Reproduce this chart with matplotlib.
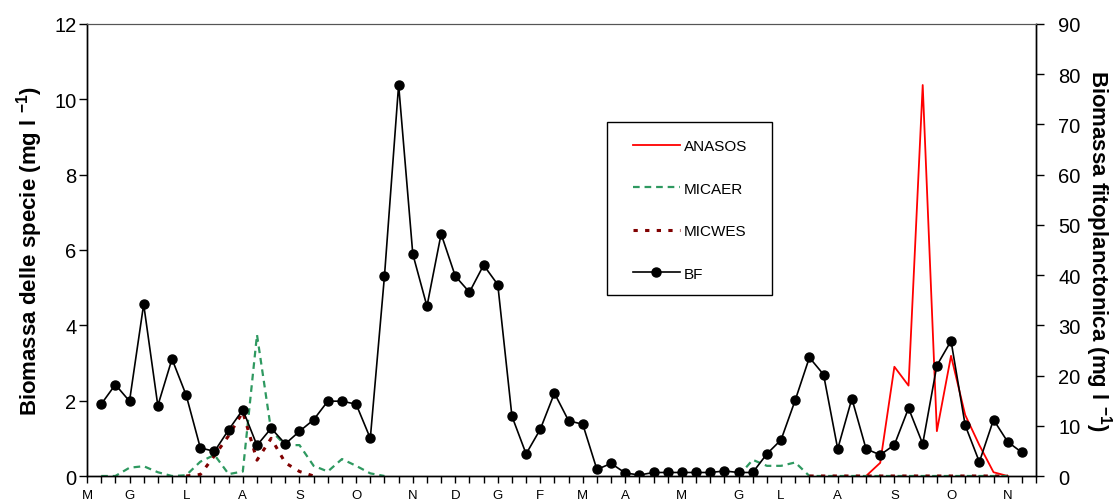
import numpy as np
import matplotlib
matplotlib.use("Agg")
import matplotlib.pyplot as plt
from matplotlib.patches import Rectangle

plt.rcParams['font.family'] = ['Liberation Sans', 'DejaVu Sans']
plt.rcParams['mathtext.fontset'] = 'custom'
plt.rcParams['mathtext.rm'] = 'Liberation Sans'
plt.rcParams['mathtext.bf'] = 'Liberation Sans:bold'

nan = np.nan

# Sampling dates (index along the time axis) and month initials
month_pos = [-1, 2, 6, 10, 14, 18, 22, 25, 28, 31, 34, 37, 41, 45, 48, 52, 56, 60, 64]
month_lab = ['M', 'G', 'L', 'A', 'S', 'O', 'N', 'D', 'G', 'F', 'M', 'A', 'M',
             'G', 'L', 'A', 'S', 'O', 'N']

# Total phytoplankton biomass (mg/l), right axis
bf = [14.3, 18.2, 14.9, 34.2, 14.0, 23.3, 16.1, 5.6, 4.9, 9.2,
      13.2, 6.1, 9.5, 6.4, 8.9, 11.2, 14.9, 14.9, 14.3, 7.5,
      39.8, 77.9, 44.2, 33.8, 48.2, 39.8, 36.6, 42.0, 38.1, 11.9,
      4.4, 9.3, 16.5, 11.0, 10.3, 1.3, 2.5, 0.6, 0.2, 0.7,
      0.7, 0.7, 0.7, 0.7, 1.0, 0.7, 0.7, 4.4, 7.2, 15.1,
      23.6, 20.2, 5.4, 15.4, 5.4, 4.2, 6.2, 13.5, 6.4, 22.0,
      26.9, 10.1, 2.8, 11.2, 6.8, 4.7]

# Species biomass (mg/l), left axis
anasos = [nan] * 54 + [0, 0.35, 2.9, 2.4, 10.38, 1.19, 3.19, 1.62, 0.82, 0.1, 0] + [nan]
micaer = ([0, 0, 0.22, 0.26, 0.1, 0, 0.02, 0.38, 0.56, 0.05,
           0.12, 3.75, 1.2, 0.82, 0.82, 0.27, 0.12, 0.45, 0.27, 0.07, 0]
          + [nan] * 24
          + [0, 0.43, 0.27, 0.27, 0.36] + [0] * 15 + [nan])
micwes = ([nan] * 6 + [0, 0.04, 0.54, 1.07, 1.7, 0.42, 1.0, 0.35, 0.12, 0]
          + [nan] * 34 + [0] * 15 + [nan])

x = np.arange(len(bf))

W, H = 1117, 502
fig = plt.figure(figsize=(W / 100, H / 100), dpi=100)
ax = fig.add_axes([0.0779, 0.0498, 0.8496, 0.9004])
ax2 = ax.twinx()

l1, = ax.plot(x, anasos, color='#ff0000', lw=1.3, label='ANASOS')
l2, = ax.plot(x, micaer, color='#2e9960', lw=1.6, dashes=(3.0, 2.2), label='MICAER')
l3, = ax.plot(x, micwes, color='#800000', lw=2.2, dashes=(1.4, 2.4), label='MICWES')
l4, = ax2.plot(x, bf, color='black', lw=1.2, marker='o', ms=6.5, label='BF')

ax.set_xlim(-1, 66)
ax.set_ylim(0, 12)
ax2.set_ylim(0, 90)
ax.set_yticks(np.arange(0, 13, 2))
ax2.set_yticks(np.arange(0, 91, 10))

ticks = np.arange(-1, 67)
ax.set_xticks(ticks)
lab_map = dict(zip(month_pos, month_lab))
ax.set_xticklabels([lab_map.get(t, '') for t in ticks])

ax.tick_params(axis='x', direction='out', length=5, width=1, labelsize=9.5, pad=4)
ax.tick_params(axis='y', direction='out', length=6, width=1, labelsize=14.5, pad=1.5)
ax2.tick_params(axis='y', direction='out', length=6, width=1, labelsize=14.5, pad=10)

for a in (ax, ax2):
    a.spines['top'].set_color('#555555')
    for s in ('left', 'right', 'bottom'):
        a.spines[s].set_color('black')
        a.spines[s].set_linewidth(1.0)

ax.set_ylabel(r'Biomassa delle specie (mg l $^{\mathbf{-1}}$)', fontsize=16,
              fontweight='bold', labelpad=7)
ax2.set_ylabel(r'Biomassa fitoplanctonica (mg l $^{\mathbf{-1}}$)', fontsize=16,
               fontweight='bold', rotation=270, labelpad=24)

# Legend entries without their own frame; the box is drawn separately
leg = ax2.legend(handles=[l1, l2, l3, l4], loc='upper left',
                 bbox_to_anchor=(633 / W, 1 - 140 / H),
                 bbox_transform=fig.transFigure,
                 fontsize=11, frameon=False,
                 handlelength=3.05, handletextpad=0.3, labelspacing=1.87,
                 borderpad=0, borderaxespad=0)
box = Rectangle((607 / W, 1 - 296 / H), 165 / W, 173 / H,
                transform=fig.transFigure, fill=False, edgecolor='black',
                lw=1.0, zorder=5)
fig.add_artist(box)

fig.savefig('out.png', dpi=100)
